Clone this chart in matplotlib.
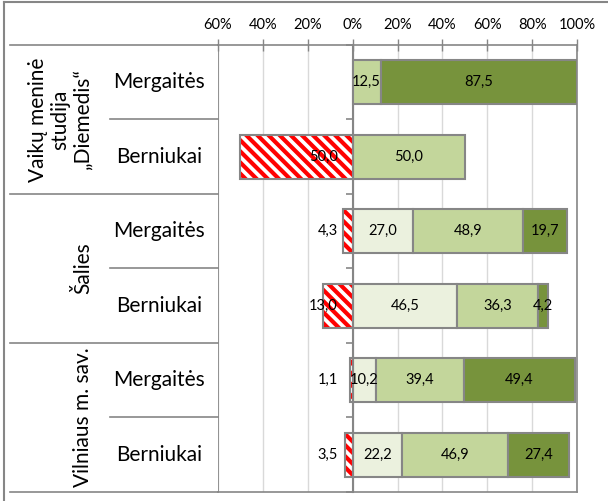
import matplotlib
matplotlib.use('Agg')
import matplotlib.pyplot as plt
import matplotlib.transforms as mtransforms
from matplotlib.lines import Line2D
import numpy as np

# data
groups = ['Vaikų meninė\nstudija\n„Diemedis“', 'Šalies', 'Vilniaus m. sav.']
subgroups = ['Mergaitės', 'Berniukai', 'Mergaitės', 'Berniukai', 'Mergaitės', 'Berniukai']
negative = [0, 50.0, 4.3, 13.0, 1.1, 3.5]
level1 = [0, 0, 27.0, 46.5, 10.2, 22.2]
level2 = [12.5, 50.0, 48.9, 36.3, 39.4, 46.9]
level3 = [87.5, 0, 19.7, 4.2, 49.4, 27.4]
xticks = [-60, -40, -20, 0, 20, 40, 60, 80, 100]

colors = ['#EBF1DE', '#C3D69B', '#77933C']
edge = '#868686'
grid = '#D9D9D9'

plt.rcParams['font.family'] = ['Lato', 'DejaVu Sans']
plt.rcParams['hatch.linewidth'] = 3

W, H = 608, 501
fig = plt.figure(figsize=(W / 100, H / 100), dpi=100)
ax = fig.add_axes([218 / W, 1 - 492 / H, (577 - 218) / W, (492 - 45) / H])

y = np.arange(len(subgroups))
bh = 0.59


def fmt(v):
    return f'{v:.1f}'.replace('.', ',')


# negative (hatched) part
neg = np.array(negative)
idx = neg > 0
ax.barh(y[idx], -neg[idx], height=bh, color='white', hatch='\\\\\\',
        edgecolor='red', linewidth=0, zorder=3)
ax.barh(y[idx], -neg[idx], height=bh, color='none', edgecolor=edge,
        linewidth=1.5, zorder=4)
for yi, v in zip(y[idx], neg[idx]):
    ax.text(-6.7, yi, fmt(v), ha='right', va='center', fontsize=10.5, zorder=5)

# positive stacked parts
left = np.zeros(len(subgroups))
for vals, c in zip([level1, level2, level3], colors):
    vals = np.array(vals)
    idx = vals > 0
    ax.barh(y[idx], vals[idx], left=left[idx], height=bh, color=c,
            edgecolor=edge, linewidth=1.5, zorder=3)
    for yi, l, v in zip(y[idx], left[idx], vals[idx]):
        ax.text(l + v / 2, yi, fmt(v), ha='center', va='center', fontsize=10.5, zorder=5)
    left = left + vals

ax.set_xlim(-60, 100)
ax.set_ylim(len(subgroups) - 0.5, -0.5)

ax.xaxis.tick_top()
ax.set_xticks(xticks)
ax.set_xticklabels([f'{abs(t)}%' for t in xticks])
ax.tick_params(axis='x', direction='inout', length=8, color=edge, width=1,
               pad=5, labelsize=10.5)
ax.set_yticks(np.arange(-0.5, len(subgroups), 1))
ax.set_yticklabels([])
ax.tick_params(axis='y', direction='out', length=5, color=edge, width=1.2)
ax.grid(axis='x', color=grid, linewidth=1, zorder=0)
ax.set_axisbelow(True)

ax.spines['left'].set_position(('data', 0))
ax.spines['left'].set_color(edge)
ax.spines['left'].set_linewidth(1.5)
for s in ['top', 'bottom', 'right']:
    ax.spines[s].set_color(edge)
    ax.spines[s].set_linewidth(1.2)
ax.axvline(-60, color=edge, linewidth=1.2, zorder=1)

# category table on the left
blend = mtransforms.blended_transform_factory(fig.transFigure, ax.transData)
for b in np.arange(-0.5, len(subgroups), 1):
    x0 = 10 if int(b + 0.5) % 2 == 0 else 110
    fig.add_artist(Line2D([x0 / W, 218 / W], [b, b], transform=blend,
                          color=edge, linewidth=1.2))

for yi, name in zip(y, subgroups):
    ax.text(159 / W, yi, name, transform=blend, ha='center', va='center',
            fontsize=15, clip_on=False)

for i, g in enumerate(groups):
    ax.text(93 / W, 2 * i + 0.5, g, transform=blend, ha='right', va='center',
            rotation=90, multialignment='center', fontsize=15,
            linespacing=1.15, clip_on=False)

# outer chart frame (cropped)
fig.add_artist(Line2D([4 / W, 4 / W], [0, 1 - 2 / H], transform=fig.transFigure,
                      color=edge, linewidth=1.5))
fig.add_artist(Line2D([4 / W, 1], [1 - 2 / H, 1 - 2 / H], transform=fig.transFigure,
                      color=edge, linewidth=1.5))

fig.savefig('out.png', dpi=100)
